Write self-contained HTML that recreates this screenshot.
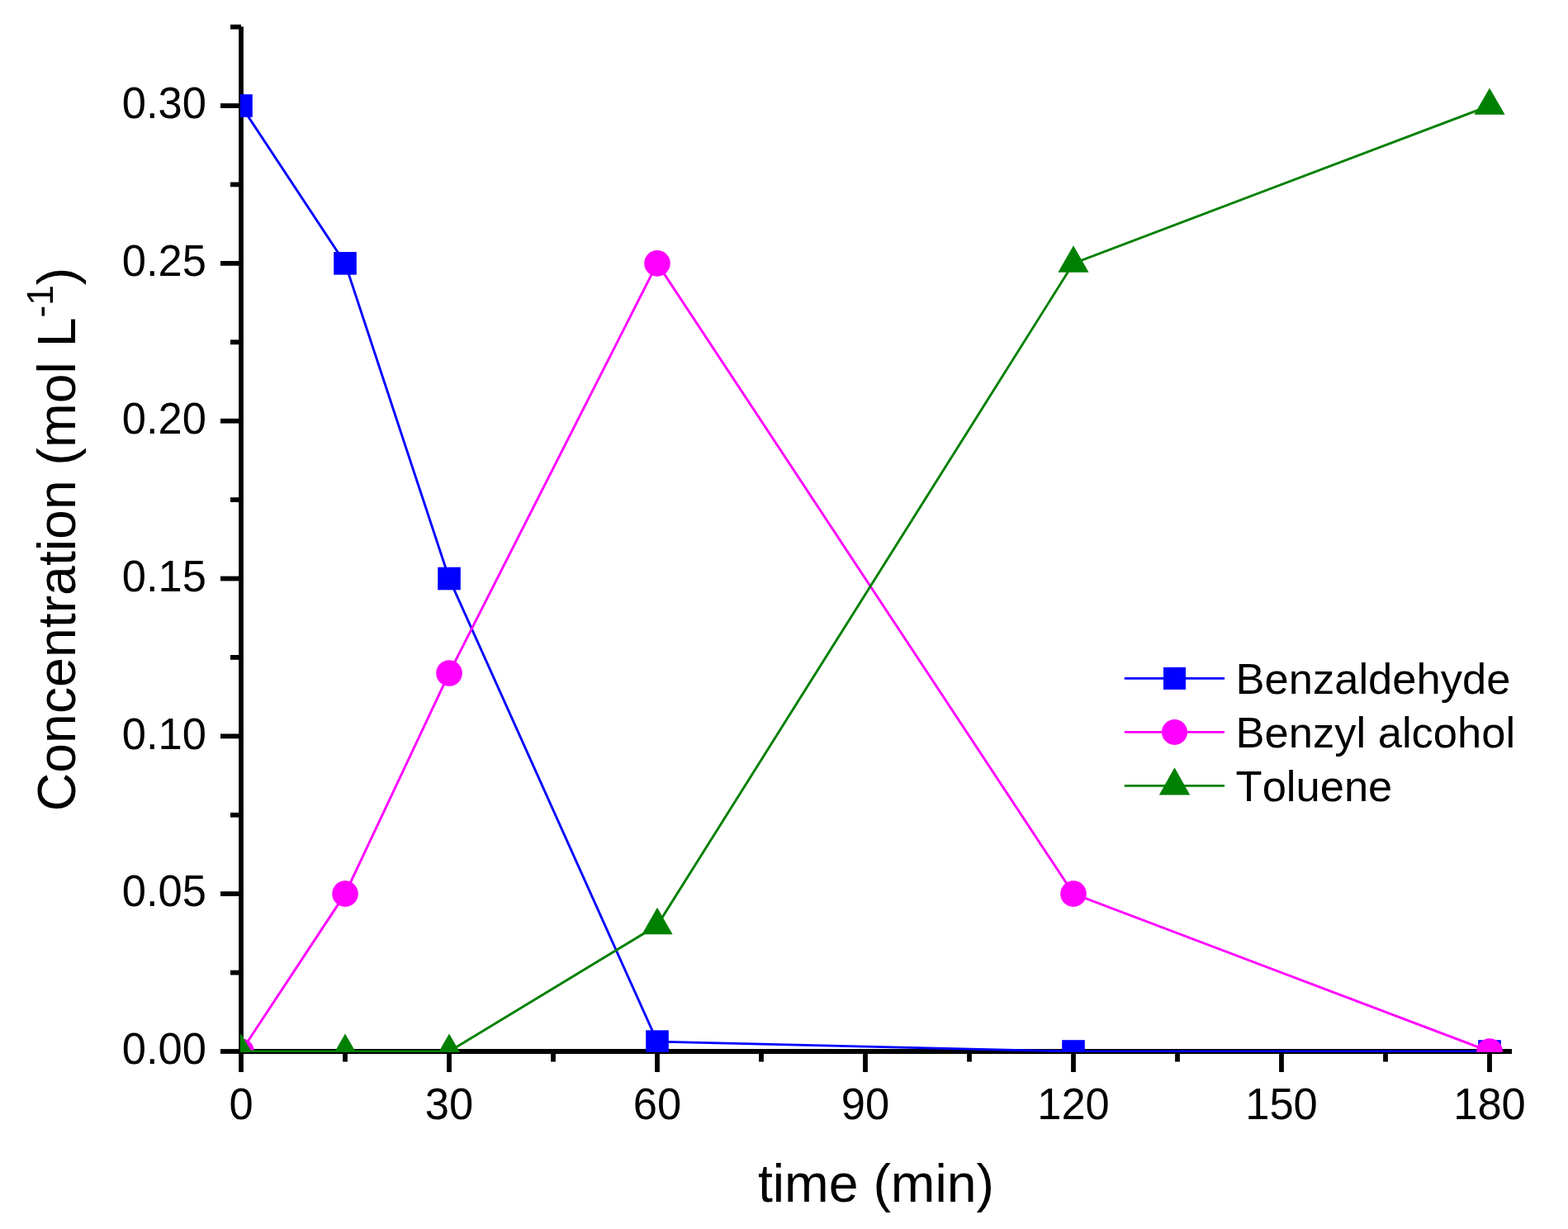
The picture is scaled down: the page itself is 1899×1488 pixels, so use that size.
<!DOCTYPE html>
<html><head><meta charset="utf-8"><title>Concentration vs time</title>
<style>
html,body{margin:0;padding:0;background:#fff;}
body{width:1899px;height:1488px;overflow:hidden;}
svg{display:block;}
text{font-family:"Liberation Sans",Arial,Helvetica,sans-serif;fill:#000;font-kerning:none;}
</style></head><body>
<svg width="1899" height="1488" viewBox="0 0 1899 1488">
<defs><clipPath id="pc"><rect x="291" y="0" width="1608" height="1274"/></clipPath></defs>
<rect width="1899" height="1488" fill="#fff"/>

<g stroke="#000" stroke-width="5.8" stroke-linecap="butt"><line x1="292.0" y1="32.21" x2="292.0" y2="1275.9"/><line x1="289.1" y1="1273.0" x2="1831" y2="1273.0"/><line x1="267" y1="1273" x2="292.0" y2="1273"/><line x1="279" y1="1177.59" x2="292.0" y2="1177.59"/><line x1="267" y1="1082.17" x2="292.0" y2="1082.17"/><line x1="279" y1="986.75" x2="292.0" y2="986.75"/><line x1="267" y1="891.34" x2="292.0" y2="891.34"/><line x1="279" y1="795.92" x2="292.0" y2="795.92"/><line x1="267" y1="700.51" x2="292.0" y2="700.51"/><line x1="279" y1="605.09" x2="292.0" y2="605.09"/><line x1="267" y1="509.68" x2="292.0" y2="509.68"/><line x1="279" y1="414.26" x2="292.0" y2="414.26"/><line x1="267" y1="318.85" x2="292.0" y2="318.85"/><line x1="279" y1="223.43" x2="292.0" y2="223.43"/><line x1="267" y1="128.02" x2="292.0" y2="128.02"/><line x1="279" y1="32.61" x2="292.0" y2="32.61"/><line x1="292" y1="1273.0" x2="292" y2="1298"/><line x1="418" y1="1273.0" x2="418" y2="1285.5"/><line x1="544" y1="1273.0" x2="544" y2="1298"/><line x1="670" y1="1273.0" x2="670" y2="1285.5"/><line x1="796" y1="1273.0" x2="796" y2="1298"/><line x1="922" y1="1273.0" x2="922" y2="1285.5"/><line x1="1048" y1="1273.0" x2="1048" y2="1298"/><line x1="1174" y1="1273.0" x2="1174" y2="1285.5"/><line x1="1300" y1="1273.0" x2="1300" y2="1298"/><line x1="1426" y1="1273.0" x2="1426" y2="1285.5"/><line x1="1552" y1="1273.0" x2="1552" y2="1298"/><line x1="1678" y1="1273.0" x2="1678" y2="1285.5"/><line x1="1804" y1="1273.0" x2="1804" y2="1298"/></g>
<g font-size="52.5"><text transform="translate(250,1288.3) scale(1,1.035)" text-anchor="end">0.00</text><text transform="translate(250,1097.47) scale(1,1.035)" text-anchor="end">0.05</text><text transform="translate(250,906.64) scale(1,1.035)" text-anchor="end">0.10</text><text transform="translate(250,715.81) scale(1,1.035)" text-anchor="end">0.15</text><text transform="translate(250,524.98) scale(1,1.035)" text-anchor="end">0.20</text><text transform="translate(250,334.15) scale(1,1.035)" text-anchor="end">0.25</text><text transform="translate(250,143.32) scale(1,1.035)" text-anchor="end">0.30</text><text transform="translate(292,1355) scale(1,1.035)" text-anchor="middle">0</text><text transform="translate(544,1355) scale(1,1.035)" text-anchor="middle">30</text><text transform="translate(796,1355) scale(1,1.035)" text-anchor="middle">60</text><text transform="translate(1048,1355) scale(1,1.035)" text-anchor="middle">90</text><text transform="translate(1300,1355) scale(1,1.035)" text-anchor="middle">120</text><text transform="translate(1552,1355) scale(1,1.035)" text-anchor="middle">150</text><text transform="translate(1804,1355) scale(1,1.035)" text-anchor="middle">180</text></g>
<text x="917.9" y="1455.4" font-size="64.4">time (min)</text>
<text transform="translate(91.3,982.2) rotate(-90)" x="0" y="0" font-size="64.4">Concentration (mol L<tspan font-size="44.2" dy="-27.6">-1</tspan><tspan dy="27.6">)</tspan></text>
<g clip-path="url(#pc)">
<polyline points="292,128.02 418,318.85 544,700.51 796,1261.17 1300,1273 1804,1273" fill="none" stroke="#0000ff" stroke-width="2.9" stroke-linejoin="miter"/>
<rect x="278.2" y="114.22" width="27.6" height="27.6" fill="#0000ff"/>
<rect x="404.2" y="305.05" width="27.6" height="27.6" fill="#0000ff"/>
<rect x="530.2" y="686.71" width="27.6" height="27.6" fill="#0000ff"/>
<rect x="782.2" y="1247.37" width="27.6" height="27.6" fill="#0000ff"/>
<rect x="1286.2" y="1259.2" width="27.6" height="27.6" fill="#0000ff"/>
<rect x="1790.2" y="1259.2" width="27.6" height="27.6" fill="#0000ff"/>
<polyline points="292,1273 418,1082.17 544,815.01 796,318.85 1300,1082.17 1804,1273" fill="none" stroke="#ff00ff" stroke-width="2.9" stroke-linejoin="miter"/>
<circle cx="292" cy="1273" r="15.8" fill="#ff00ff"/>
<circle cx="418" cy="1082.17" r="15.8" fill="#ff00ff"/>
<circle cx="544" cy="815.01" r="15.8" fill="#ff00ff"/>
<circle cx="796" cy="318.85" r="15.8" fill="#ff00ff"/>
<circle cx="1300" cy="1082.17" r="15.8" fill="#ff00ff"/>
<circle cx="1804" cy="1273" r="15.8" fill="#ff00ff"/>
<polyline points="292,1273 418,1273 544,1273 796,1120.34 1300,318.85 1804,128.02" fill="none" stroke="#008000" stroke-width="2.9" stroke-linejoin="miter"/>
<polygon points="292,1251.4 273.4,1283.8 310.6,1283.8" fill="#008000"/>
<polygon points="418,1251.4 399.4,1283.8 436.6,1283.8" fill="#008000"/>
<polygon points="544,1251.4 525.4,1283.8 562.6,1283.8" fill="#008000"/>
<polygon points="796,1098.74 777.4,1131.14 814.6,1131.14" fill="#008000"/>
<polygon points="1300,297.25 1281.4,329.65 1318.6,329.65" fill="#008000"/>
<polygon points="1804,106.42 1785.4,138.82 1822.6,138.82" fill="#008000"/>
</g>
<line x1="1361.8" y1="821.4" x2="1483.0" y2="821.4" stroke="#0000ff" stroke-width="2.9"/>
<rect x="1409" y="807.9" width="27" height="27" fill="#0000ff"/>
<text x="1496.6" y="840.1" font-size="52.5">Benzaldehyde</text>
<line x1="1361.8" y1="886.4" x2="1483.0" y2="886.4" stroke="#ff00ff" stroke-width="2.9"/>
<circle cx="1422.5" cy="886.4" r="15.5" fill="#ff00ff"/>
<text x="1496.6" y="905.1" font-size="52.5">Benzyl alcohol</text>
<line x1="1361.8" y1="951.4" x2="1483.0" y2="951.4" stroke="#008000" stroke-width="2.9"/>
<polygon points="1422.5,929.33 1403.8,962.43 1441.2,962.43" fill="#008000"/>
<text x="1496.6" y="970.0" font-size="52.5">Toluene</text>
</svg>
</body></html>
